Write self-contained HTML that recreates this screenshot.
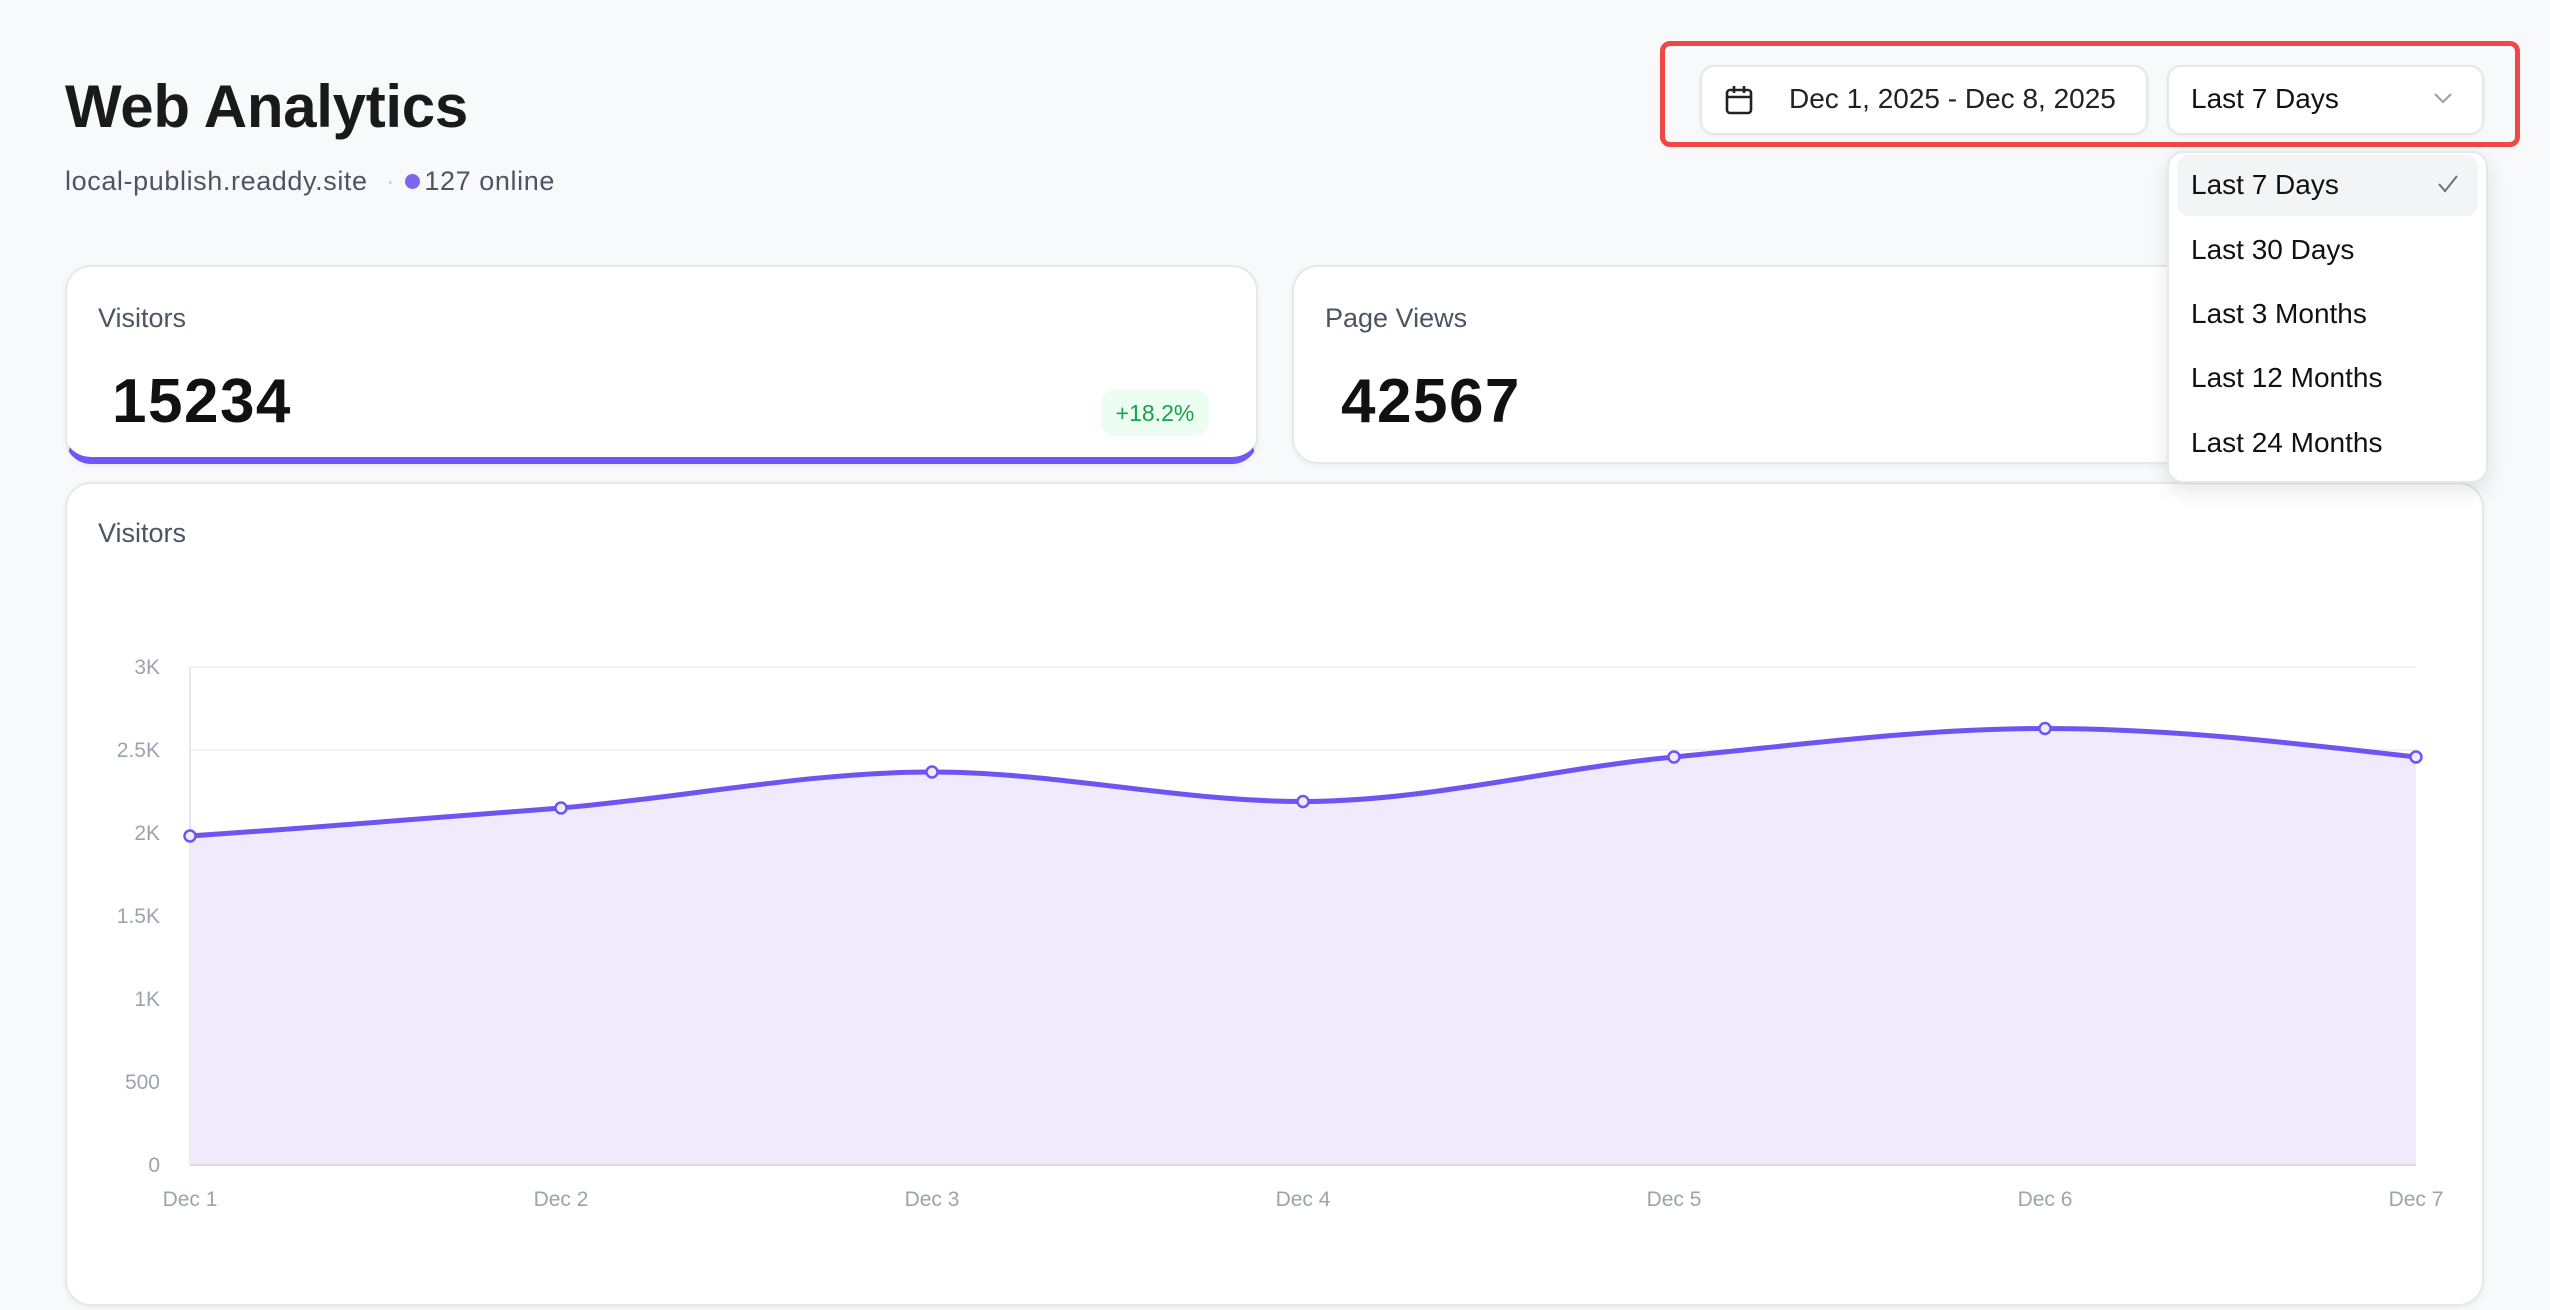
<!DOCTYPE html>
<html><head><meta charset="utf-8"><style>
*{box-sizing:border-box;margin:0;padding:0}
body{width:2550px;height:1310px;background:#f8f9fb;font-family:"Liberation Sans",sans-serif;position:relative;overflow:hidden;color:#111}
.abs{position:absolute}
.card{position:absolute;background:#fff;border:2px solid #e7e8eb;border-radius:26px;box-shadow:0 2px 6px rgba(0,0,0,.05)}
.lbl{position:absolute;font-size:27px;color:#4b5563}
.big{position:absolute;font-size:62px;font-weight:bold;color:#111;letter-spacing:1.5px}
.btn{position:absolute;background:#fff;border:2px solid #e5e7eb;border-radius:14px;box-shadow:0 1px 3px rgba(0,0,0,.06)}
.item{position:absolute;left:2191px;font-size:28px;color:#111}
</style></head><body>
<div class="abs" style="left:65px;top:72px;font-size:60px;font-weight:bold;color:#1a1a1a;letter-spacing:-0.3px">Web Analytics</div>
<div class="abs" style="left:65px;top:166px;font-size:27px;color:#4b5563;letter-spacing:0.6px">local-publish.readdy.site <span style="color:#cbd0d6;margin:0 10px">·</span><span style="display:inline-block;width:15px;height:15px;border-radius:50%;background:#7c66f2;vertical-align:1px;margin-right:4px"></span>127 online</div>

<div class="abs" style="left:1660px;top:41px;width:860px;height:106px;border:5px solid #f04747;border-radius:10px"></div>
<div class="btn" style="left:1700px;top:65px;width:448px;height:70px"></div>
<svg class="abs" style="left:1724px;top:84px" width="30" height="32" viewBox="0 0 30 32"><rect x="3" y="6" width="24" height="23" rx="3" fill="none" stroke="#222" stroke-width="2.6"/><line x1="3" y1="13" x2="27" y2="13" stroke="#222" stroke-width="2.6"/><line x1="10" y1="2" x2="10" y2="9" stroke="#222" stroke-width="2.6"/><line x1="20" y1="2" x2="20" y2="9" stroke="#222" stroke-width="2.6"/></svg>
<div class="abs" style="left:1789px;top:83px;font-size:28px;color:#222">Dec 1, 2025 - Dec 8, 2025</div>
<div class="btn" style="left:2167px;top:65px;width:317px;height:70px"></div>
<div class="abs" style="left:2191px;top:83px;font-size:28px;color:#111">Last 7 Days</div>
<svg class="abs" style="left:2432px;top:90px" width="22" height="16"><polyline points="3,4 11,12 19,4" fill="none" stroke="#9ca3af" stroke-width="2.2"/></svg>

<div class="card" style="left:65px;top:265px;width:1193px;height:199px;border-bottom:7px solid #7257f5"></div>
<div class="lbl" style="left:98px;top:303px">Visitors</div>
<div class="big" style="left:112px;top:366px">15234</div>
<div class="abs" style="left:1101px;top:390px;width:108px;height:46px;background:#ecfdf1;border-radius:14px;color:#16a34a;font-size:23px;text-align:center;line-height:46px">+18.2%</div>

<div class="card" style="left:1292px;top:265px;width:1192px;height:199px"></div>
<div class="lbl" style="left:1325px;top:303px">Page Views</div>
<div class="big" style="left:1341px;top:366px">42567</div>

<div class="card" style="left:65px;top:482px;width:2419px;height:824px"></div>
<div class="lbl" style="left:98px;top:518px">Visitors</div>
<svg class="abs" style="left:0;top:0" width="2550" height="1310">
<g stroke="#eceef1" stroke-width="1.5">
<line x1="190" y1="667" x2="2416" y2="667"/><line x1="190" y1="750" x2="2416" y2="750"/><line x1="190" y1="833" x2="2416" y2="833"/><line x1="190" y1="916" x2="2416" y2="916"/><line x1="190" y1="999" x2="2416" y2="999"/><line x1="190" y1="1082" x2="2416" y2="1082"/>
</g>
<line x1="190" y1="667" x2="190" y2="1165" stroke="#e5e7eb" stroke-width="2"/>
<g font-size="21" fill="#9ca3af" font-family="Liberation Sans,sans-serif" text-anchor="end">
<text x="160" y="674">3K</text><text x="160" y="757">2.5K</text><text x="160" y="840">2K</text><text x="160" y="923">1.5K</text><text x="160" y="1006">1K</text><text x="160" y="1089">500</text><text x="160" y="1172">0</text>
</g>
<g font-size="21" fill="#9ca3af" font-family="Liberation Sans,sans-serif" text-anchor="middle">
<text x="190" y="1206">Dec 1</text><text x="561" y="1206">Dec 2</text><text x="932" y="1206">Dec 3</text><text x="1303" y="1206">Dec 4</text><text x="1674" y="1206">Dec 5</text><text x="2045" y="1206">Dec 6</text><text x="2416" y="1206">Dec 7</text>
</g>
<path d="M190,836 C313.7,827.3 437.3,818.5 561,808 C684.7,797.5 808.3,772 932,772 C1055.7,772 1179.3,801.5 1303,801.5 C1426.7,801.5 1550.3,768.7 1674,757 C1797.7,745.3 1921.3,728.5 2045,728.5 C2168.7,728.5 2292.3,742.75 2416,757 L2416,1165 L190,1165 Z" fill="#efebfd"/>
<line x1="190" y1="1165" x2="2416" y2="1165" stroke="#d9dbe0" stroke-width="2"/>
<path d="M190,836 C313.7,827.3 437.3,818.5 561,808 C684.7,797.5 808.3,772 932,772 C1055.7,772 1179.3,801.5 1303,801.5 C1426.7,801.5 1550.3,768.7 1674,757 C1797.7,745.3 1921.3,728.5 2045,728.5 C2168.7,728.5 2292.3,742.75 2416,757" fill="none" stroke="#6e55f2" stroke-width="5"/>
<g fill="#efebfd" stroke="#6e55f2" stroke-width="2.5">
<circle cx="190" cy="836" r="5.5"/><circle cx="561" cy="808" r="5.5"/><circle cx="932" cy="772" r="5.5"/><circle cx="1303" cy="801.5" r="5.5"/><circle cx="1674" cy="757" r="5.5"/><circle cx="2045" cy="728.5" r="5.5"/><circle cx="2416" cy="757" r="5.5"/>
</g>
</svg>

<div class="abs" style="left:2167px;top:151px;width:321px;height:332px;background:#fff;border:2px solid #e7e8eb;border-radius:16px;box-shadow:0 8px 20px rgba(0,0,0,.1)"></div>
<div class="abs" style="left:2177px;top:155px;width:301px;height:61px;background:#f3f4f6;border-radius:12px"></div>
<div class="item" style="top:169px">Last 7 Days</div>
<svg class="abs" style="left:2436px;top:172px" width="24" height="24"><polyline points="3,12 9,19 21,4" fill="none" stroke="#6b7280" stroke-width="2"/></svg>
<div class="item" style="top:234px">Last 30 Days</div>
<div class="item" style="top:298px">Last 3 Months</div>
<div class="item" style="top:362px">Last 12 Months</div>
<div class="item" style="top:427px">Last 24 Months</div>
</body></html>
